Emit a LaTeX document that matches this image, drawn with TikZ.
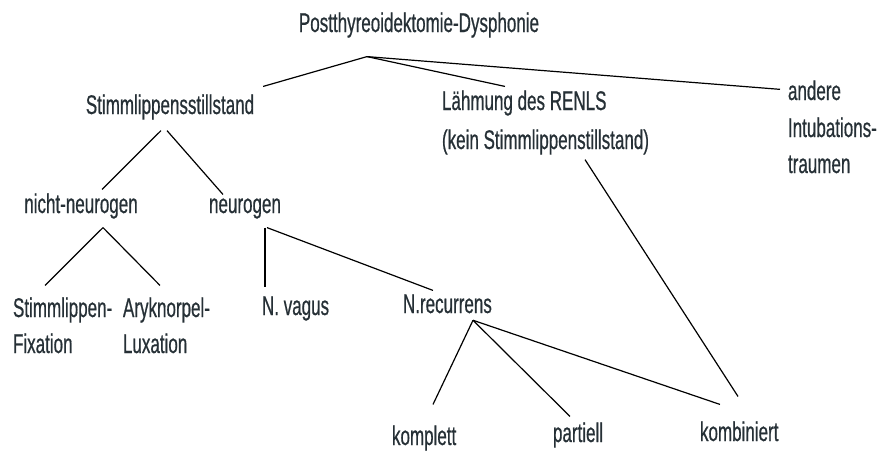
\documentclass[tikz,border=0pt]{standalone}
\usepackage{fontspec}
\setmainfont{Liberation Sans}[FakeStretch=0.63,FakeBold=0.6]
\usetikzlibrary{calc}
\definecolor{txtc}{RGB}{38,48,54}
\tikzset{
  lbl/.style={inner sep=0pt, outer sep=0pt, text=txtc, font=\fontsize{27}{31}\selectfont},
  conn/.style={line width=1.2pt, black}
}
\begin{document}
\begin{tikzpicture}[x=1pt,y=-1pt]
\useasboundingbox (0,0) rectangle (879,455);
% nodes
\node[lbl, anchor=base] (top) at (419,32) {Postthyreoidektomie-Dysphonie};
\node[lbl, anchor=base] (stim) at (170,114) {Stimmlippensstillstand};
\node[lbl, anchor=base west] (laeh1) at (442,110) {Lähmung des RENLS};
\node[lbl, anchor=base west] (laeh2) at (442,149) {(kein Stimmlippenstillstand)};
\node[lbl, anchor=base west] (and1) at (788,100) {andere};
\node[lbl, anchor=base west] (and2) at (788,137) {Intubations-};
\node[lbl, anchor=base west] (and3) at (788,173) {traumen};
\node[lbl, anchor=base] (nn) at (81,213) {nicht-neurogen};
\node[lbl, anchor=base] (neu) at (245,213) {neurogen};
\node[lbl, anchor=base west] (sl1) at (13,317) {Stimmlippen-};
\node[lbl, anchor=base west] (sl2) at (13,353) {Fixation};
\node[lbl, anchor=base west] (ar1) at (123,317) {Aryknorpel-};
\node[lbl, anchor=base west] (ar2) at (123,353) {Luxation};
\node[lbl, anchor=base west] (vag) at (262,315) {N. vagus};
\node[lbl, anchor=base west] (rec) at (403,313) {N.recurrens};
\node[lbl, anchor=base west] (kom) at (392,445) {komplett};
\node[lbl, anchor=base west] (par) at (553,442) {partiell};
\node[lbl, anchor=base west] (kmb) at (700,441) {kombiniert};
% junction below the title
\coordinate (topj) at ($(top.south)+(-52,19)$);
% connectors
\draw[conn] (topj) -- ($(stim.north east)+(9,-8)$);
\draw[conn] (topj) -- ($(laeh1.north west)+(63,-4)$);
\draw[conn] (topj) -- ($(and1.west)+(-8,-1)$);
\draw[conn] ($(stim.south)+(-9,11)$) -- ($(nn.north)+(21,-4)$);
\draw[conn] ($(stim.south)+(-3,11)$) -- ($(neu.north)+(-22,-4)$);
\draw[conn] ($(nn.south)+(22,9)$) -- ($(sl1.north west)+(32,-12)$);
\draw[conn] ($(nn.south)+(22,9)$) -- ($(ar1.north west)+(37,-12)$);
\draw[conn] ($(neu.south)+(20,9)$) -- ($(vag.north west)+(3,-9)$);
\draw[conn] ($(neu.south)+(22,9)$) -- ($(rec.north west)+(30,-4)$);
\draw[conn] ($(rec.south west)+(70,7)$) -- ($(kom.north west)+(41,-21)$);
\draw[conn] ($(rec.south west)+(70,7)$) -- ($(par.north west)+(17,-6)$);
\draw[conn] ($(rec.south west)+(70,7)$) -- ($(kmb.north west)+(20,-17)$);
\draw[conn] ($(laeh2.south west)+(143,5)$) -- ($(kmb.north west)+(38,-25)$);
\end{tikzpicture}
\end{document}
